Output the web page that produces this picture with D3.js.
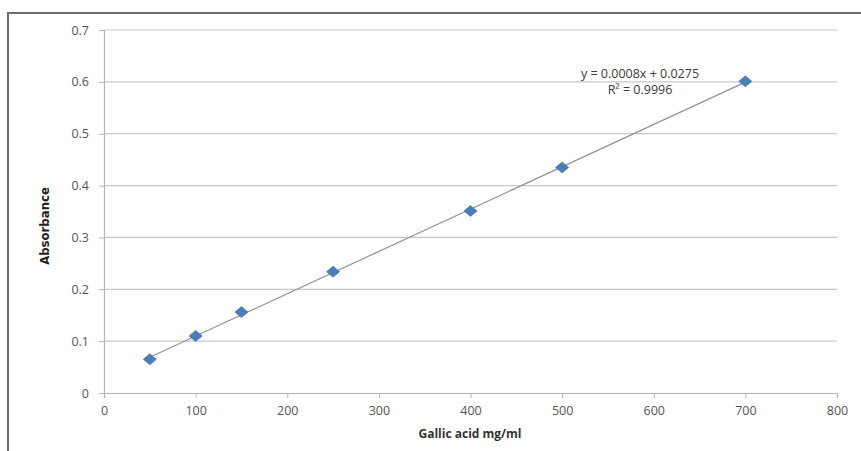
<!DOCTYPE html>
<html><head><meta charset="utf-8">
<script src="https://cdn.jsdelivr.net/npm/d3@7"></script>
<style>body{margin:0;background:#fff}svg{display:block}text{font-family:"Open Sans","Liberation Sans",sans-serif}</style>
</head><body><svg id="c" width="861" height="451"></svg>
<script>
const concentrations = [50, 100, 150, 250, 400, 500, 700];
const absorbance = [0.065, 0.11, 0.156, 0.234, 0.351, 0.435, 0.601];
const xTicks = [0, 100, 200, 300, 400, 500, 600, 700, 800];
const yTicks = [0, 0.1, 0.2, 0.3, 0.4, 0.5, 0.6, 0.7];
const equationText = "y = 0.0008x + 0.0275";
const r2Text = "R² = 0.9996";
const xTitle = "Gallic acid mg/ml";
const yTitle = "Absorbance";

const svg = d3.select("#c");
const x = d3.scaleLinear().domain([0, 800]).range([104, 837]);
const y = d3.scaleLinear().domain([0, 0.7]).range([393, 30]);

// frame
svg.append("path").attr("d","M8,451 V13 H861").attr("fill","none").attr("stroke","#6e6e6e").attr("stroke-width",2);

// gridlines
svg.append("g").selectAll("line").data(yTicks.slice(1)).join("line")
  .attr("x1",x(0)).attr("x2",x(800)).attr("y1",d=>y(d)).attr("y2",d=>y(d))
  .attr("stroke","#c8c8c8").attr("stroke-width",1.2);

// axes
const xAxis = svg.append("g").attr("transform",`translate(0,${y(0)})`)
  .call(d3.axisBottom(x).tickValues(xTicks).tickSize(5).tickPadding(8).tickFormat(d3.format("d")));
const yAxis = svg.append("g").attr("transform",`translate(${x(0)},0)`)
  .call(d3.axisLeft(y).tickValues(yTicks).tickSize(5).tickPadding(10).tickFormat(d=>d===0?"0":d3.format(".1f")(d)));
[xAxis,yAxis].forEach(g=>{
  g.select(".domain").attr("stroke","#b4b4b4").attr("stroke-width",1.2);
  g.selectAll(".tick line").attr("stroke","#b4b4b4");
  g.selectAll(".tick text").attr("fill","#555").style("font-size","12.5px").style("font-family","'Open Sans','Liberation Sans',sans-serif");
});

// trendline (least squares)
const mx = d3.mean(concentrations), my = d3.mean(absorbance);
let sxy=0, sxx=0;
concentrations.forEach((c,i)=>{sxy+=(c-mx)*(absorbance[i]-my); sxx+=(c-mx)*(c-mx);});
const slope = sxy/sxx, intercept = my - slope*mx;
const xr = d3.extent(concentrations);
svg.append("line").attr("x1",x(xr[0])).attr("x2",x(xr[1]))
  .attr("y1",y(slope*xr[0]+intercept)).attr("y2",y(slope*xr[1]+intercept))
  .attr("stroke","#939393").attr("stroke-width",1.2);

// markers
const sym = d3.symbol().type(d3.symbolSquare).size(50);
svg.append("g").selectAll("path").data(concentrations).join("path")
  .attr("d",sym).attr("transform",(d,i)=>`translate(${x(d)},${y(absorbance[i])}) scale(1.3,1.1) rotate(45)`)
  .attr("fill","#4a7ebb").attr("stroke","#3d6ea8").attr("stroke-width",0.5);

// equation
svg.append("text").attr("x",640).attr("y",78).attr("text-anchor","middle").attr("fill","#3a3a3a").style("font-size","12.5px").text(equationText);
svg.append("text").attr("x",640).attr("y",94).attr("text-anchor","middle").attr("fill","#3a3a3a").style("font-size","12.5px").text(r2Text);

// titles
svg.append("text").attr("x",470).attr("y",438).attr("text-anchor","middle").attr("fill","#333")
  .style("font-size","12px").style("font-weight","bold").text(xTitle);
svg.append("text").attr("transform","translate(49,226) rotate(-90)").attr("text-anchor","middle").attr("fill","#222")
  .style("font-size","13px").style("font-weight","bold").style("font-family","'Liberation Sans Narrow','DejaVu Sans Condensed',sans-serif").text(yTitle);
</script></body></html>
